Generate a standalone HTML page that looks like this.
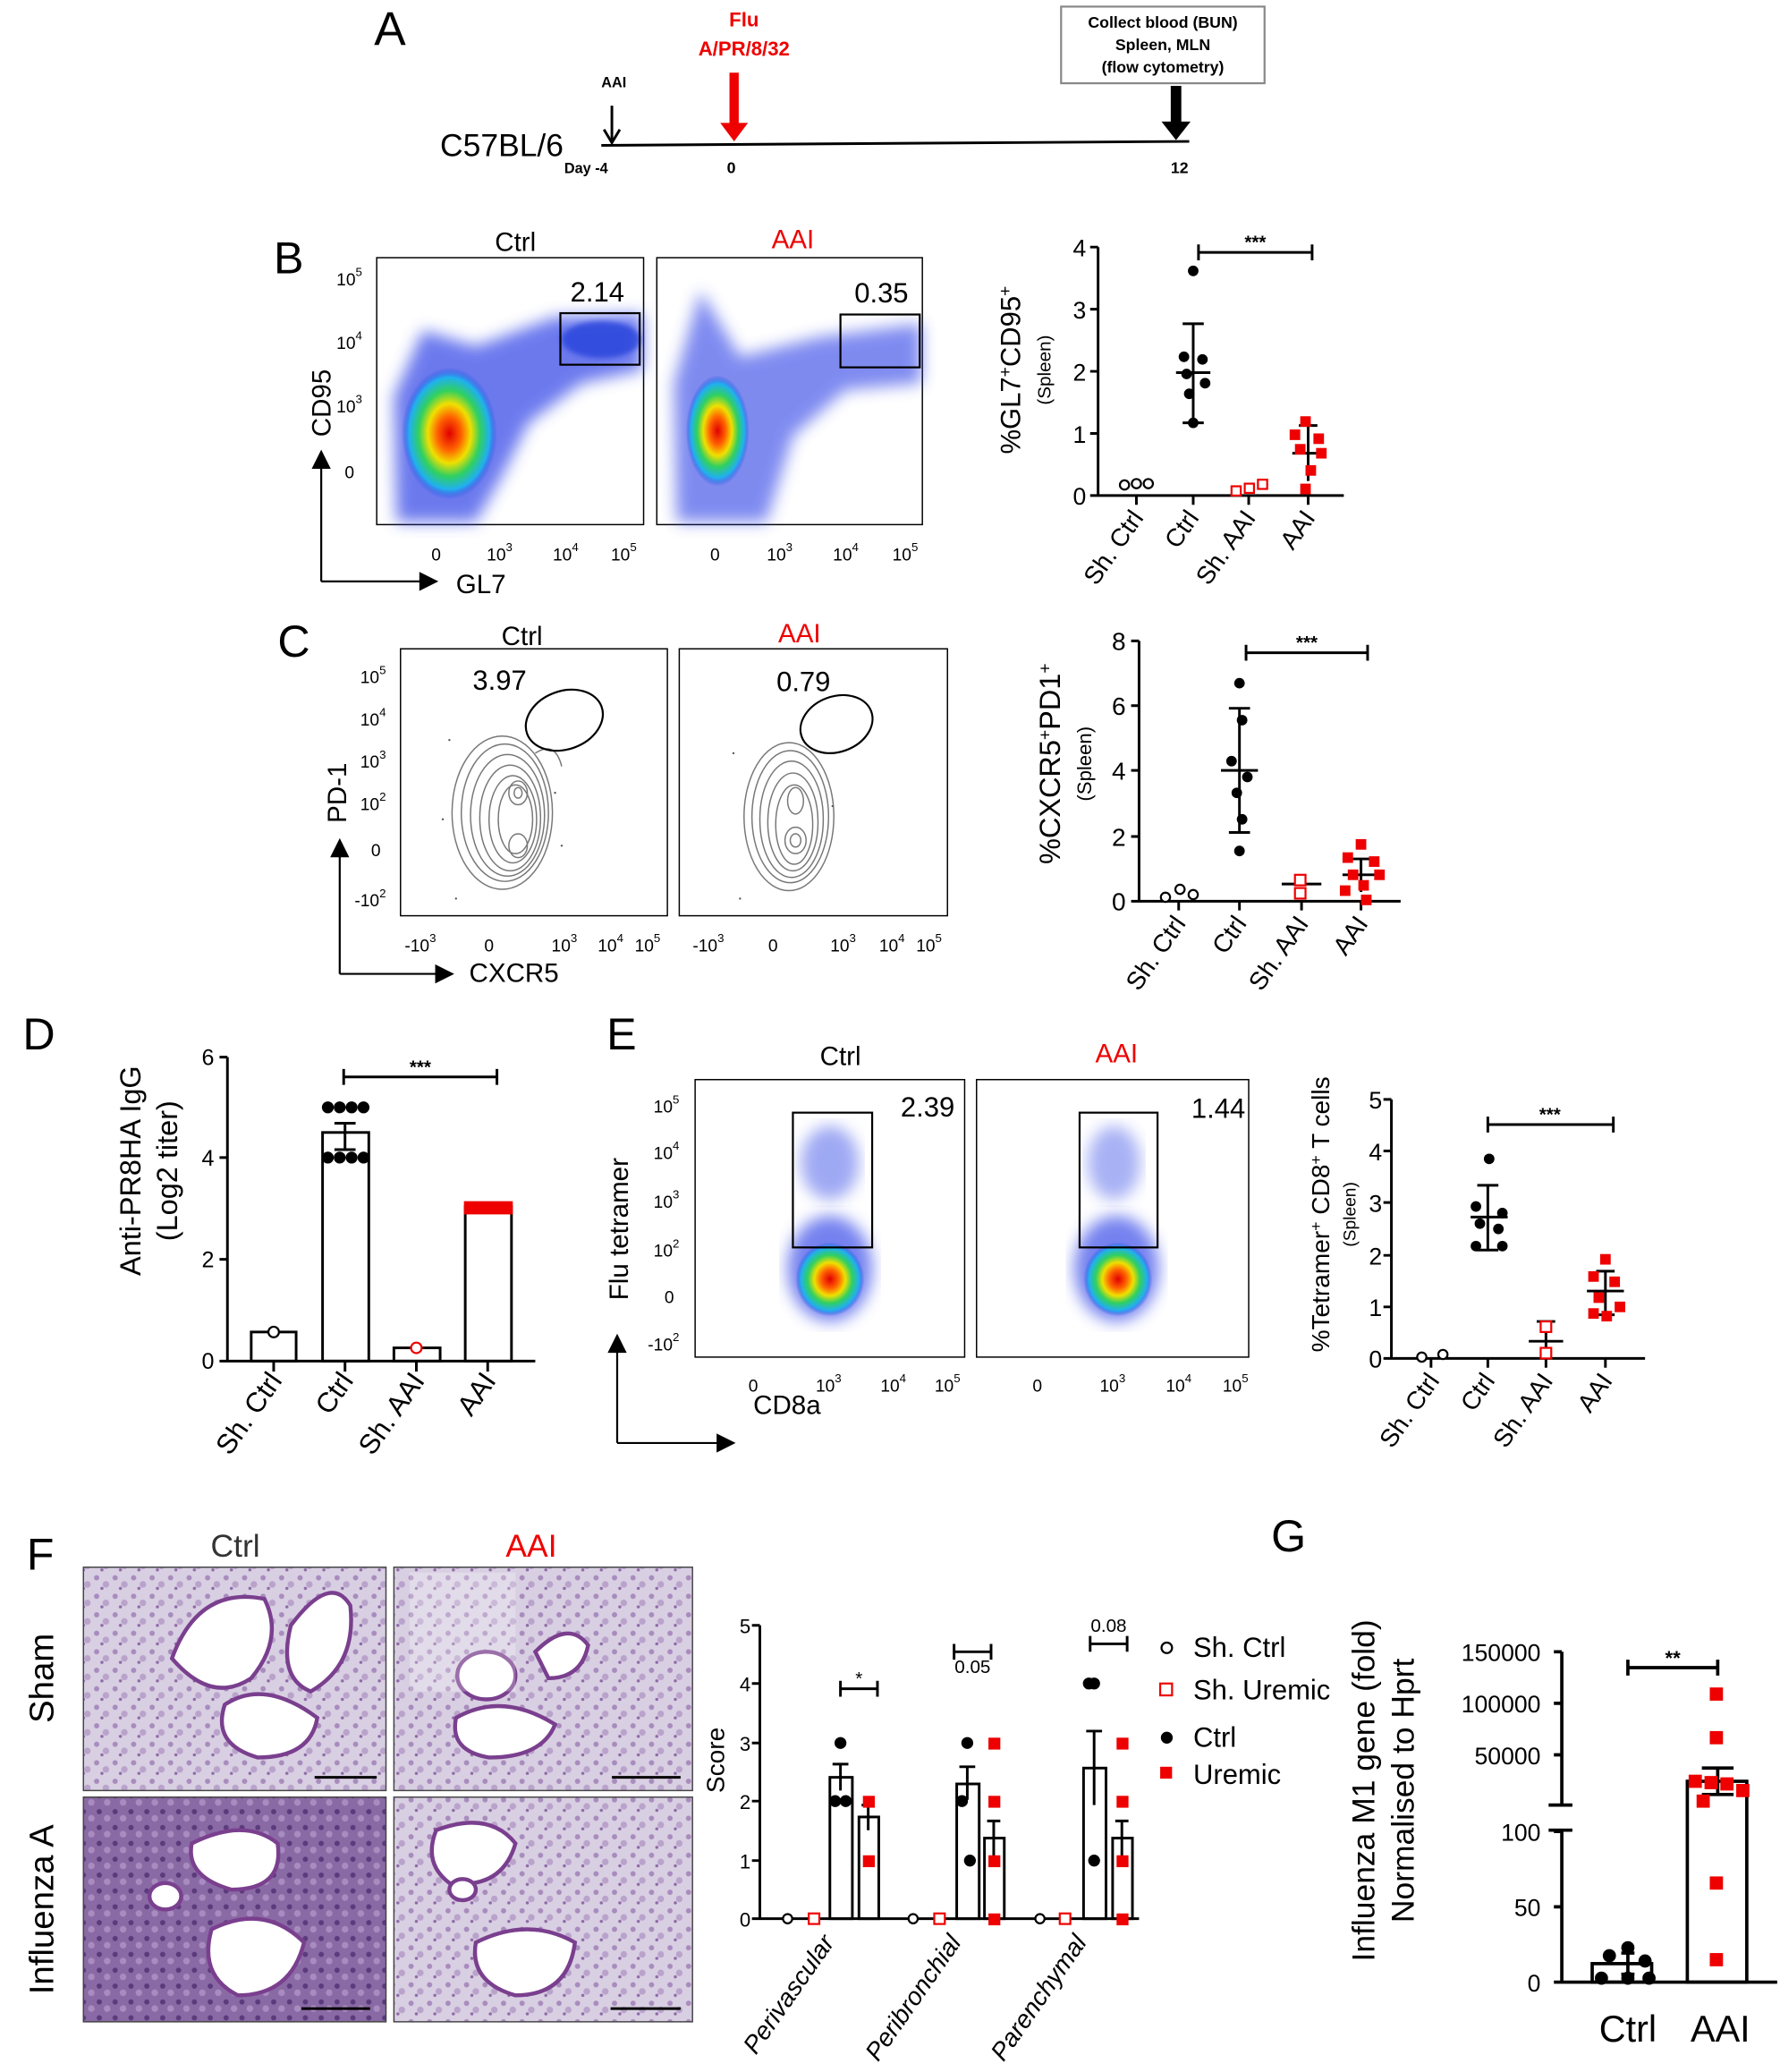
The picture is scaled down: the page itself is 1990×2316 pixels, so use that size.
<!DOCTYPE html>
<html><head><meta charset="utf-8"><style>html,body{margin:0;padding:0;background:#fff}svg{display:block}text{font-family:"Liberation Sans",Arial,sans-serif}</style></head>
<body>
<svg width="1990" height="2316" viewBox="0 0 1347 1568" xmlns="http://www.w3.org/2000/svg">
<defs>
<radialGradient id="hot" cx="50%" cy="50%" r="50%">
<stop offset="0" stop-color="#e00000"/><stop offset="0.25" stop-color="#ff6000"/><stop offset="0.45" stop-color="#f0e000"/><stop offset="0.65" stop-color="#30d060"/><stop offset="0.85" stop-color="#20b0f0"/><stop offset="1" stop-color="#2040e0" stop-opacity="0"/></radialGradient>
<filter id="bl"><feGaussianBlur stdDeviation="6"/></filter>
<filter id="bl2"><feGaussianBlur stdDeviation="2"/></filter>
<pattern id="tis" width="14" height="14" patternUnits="userSpaceOnUse"><rect width="14" height="14" fill="#d9cfe3"/><circle cx="3" cy="4" r="2" fill="#a88cbd"/><circle cx="10" cy="9" r="2.5" fill="#b9a3cb"/><circle cx="7" cy="12" r="1.2" fill="#8e6aa6"/></pattern>
<pattern id="tis2" width="12" height="12" patternUnits="userSpaceOnUse"><rect width="12" height="12" fill="#8a6aa5"/><circle cx="3" cy="3" r="2" fill="#5b3b7b"/><circle cx="9" cy="8" r="2.5" fill="#a88cc0"/></pattern>
</defs>
<g font-size="18" fill="#000">
<!-- Panel A -->
<text x="283" y="34" font-size="36">A</text>
<text x="455" y="66" font-size="11" font-weight="bold">AAI</text>
<line x1="463" y1="80" x2="463" y2="106" stroke="#000" stroke-width="2"/><path d="M457,98 L463,108 L469,98" fill="none" stroke="#000" stroke-width="2"/>
<line x1="455" y1="110" x2="900" y2="107" stroke="#000" stroke-width="2"/>
<text x="333" y="118" font-size="24">C57BL/6</text>
<text x="427" y="131" font-size="11" font-weight="bold">Day -4</text>
<text x="550" y="131" font-size="12" font-weight="bold">0</text>
<text x="886" y="131" font-size="12" font-weight="bold">12</text>
<text x="563" y="20" font-size="15" font-weight="bold" fill="#e00" text-anchor="middle">Flu</text>
<text x="563" y="42" font-size="15" font-weight="bold" fill="#e00" text-anchor="middle">A/PR/8/32</text>
<rect x="552" y="55" width="7" height="40" fill="#e00"/><path d="M545,93 L566,93 L555.5,107Z" fill="#e00"/>
<rect x="803" y="5" width="154" height="58" fill="#fff" stroke="#888" stroke-width="1.5"/>
<text x="880" y="21" font-size="12" font-weight="bold" text-anchor="middle">Collect blood (BUN)</text>
<text x="880" y="38" font-size="12" font-weight="bold" text-anchor="middle">Spleen, MLN</text>
<text x="880" y="55" font-size="12" font-weight="bold" text-anchor="middle">(flow cytometry)</text>
<rect x="886" y="65" width="8" height="30" fill="#000"/><path d="M879,92 L901,92 L890,106Z" fill="#000"/>

<!-- Panel B -->
<text x="207" y="207" font-size="34">B</text>
<text x="390" y="190" font-size="20" text-anchor="middle">Ctrl</text>
<text x="600" y="188" font-size="20" text-anchor="middle" fill="#e00">AAI</text>
<g>
<rect x="285" y="195" width="202" height="202" fill="#fff" stroke="#000"/>
<path d="M300,395 L298,300 L320,250 L360,262 L420,240 L486,238 L486,280 L440,290 L400,320 L380,360 L360,395Z" fill="#3a4de8" opacity="0.75" filter="url(#bl)"/>
<ellipse cx="340" cy="328" rx="36" ry="50" fill="url(#hot)"/>
<ellipse cx="455" cy="257" rx="30" ry="14" fill="#1e3bd8" opacity="0.7" filter="url(#bl2)"/>
<rect x="424" y="237" width="60" height="39" fill="none" stroke="#000" stroke-width="1.5"/>
<text x="452" y="228" font-size="21" text-anchor="middle">2.14</text>
<rect x="497" y="195" width="201" height="202" fill="#fff" stroke="#000"/>
<path d="M512,395 L510,290 L530,220 L560,270 L620,255 L697,245 L697,290 L640,295 L600,330 L580,395Z" fill="#3a4de8" opacity="0.65" filter="url(#bl)"/>
<ellipse cx="543" cy="326" rx="24" ry="42" fill="url(#hot)"/>
<rect x="636" y="238" width="60" height="40" fill="none" stroke="#000" stroke-width="1.5"/>
<text x="667" y="229" font-size="21" text-anchor="middle">0.35</text>
</g>
<g font-size="13" text-anchor="end">
<text x="274" y="216">10<tspan dy="-7" font-size="9">5</tspan></text>
<text x="274" y="264">10<tspan dy="-7" font-size="9">4</tspan></text>
<text x="274" y="312">10<tspan dy="-7" font-size="9">3</tspan></text>
<text x="268" y="362">0</text>
</g>
<g font-size="13" text-anchor="middle">
<text x="330" y="424">0</text><text x="378" y="424">10<tspan dy="-7" font-size="9">3</tspan></text><text x="428" y="424">10<tspan dy="-7" font-size="9">4</tspan></text><text x="472" y="424">10<tspan dy="-7" font-size="9">5</tspan></text>
<text x="541" y="424">0</text><text x="590" y="424">10<tspan dy="-7" font-size="9">3</tspan></text><text x="640" y="424">10<tspan dy="-7" font-size="9">4</tspan></text><text x="685" y="424">10<tspan dy="-7" font-size="9">5</tspan></text>
</g>
<path d="M243,440 L243,352 M237,354 L243,342 L249,354Z M243,440 L320,440 M318,434 L330,440 L318,446Z" stroke="#000" stroke-width="1.5" fill="#000"/>
<text x="250" y="305" font-size="20" transform="rotate(-90 250 305)" text-anchor="middle">CD95</text>
<text x="345" y="449" font-size="20">GL7</text>
<!-- B scatter -->
<g stroke="#000" stroke-width="2" fill="none">
<path d="M831,187 L831,375 L1017,375 M825,187 L831,187 M825,234 L831,234 M825,281 L831,281 M825,328 L831,328 M825,375 L831,375"/>
<path d="M860,375 L860,382 M903,375 L903,382 M945,375 L945,382 M990,375 L990,382"/>
<path d="M907,191 L993,191 M907,185 L907,197 M993,185 L993,197"/>
<path d="M890,282 L916,282 M903,245 L903,320 M895,245 L911,245 M895,320 L911,320"/>
<path d="M978,343 L1002,343 M990,322 L990,364 M983,322 L997,322"/>
</g>
<g font-size="18" text-anchor="end"><text x="822" y="194">4</text><text x="822" y="241">3</text><text x="822" y="288">2</text><text x="822" y="335">1</text><text x="822" y="382">0</text></g>
<text x="950" y="188" font-size="14" text-anchor="middle" font-weight="bold">***</text>
<g fill="#fff" stroke="#000" stroke-width="1.5"><circle cx="851" cy="367" r="3.5"/><circle cx="860" cy="366" r="3.5"/><circle cx="869" cy="366" r="3.5"/></g>
<g fill="#000"><circle cx="903" cy="205" r="4"/><circle cx="896" cy="270" r="4"/><circle cx="910" cy="272" r="4"/><circle cx="898" cy="283" r="4"/><circle cx="912" cy="290" r="4"/><circle cx="900" cy="298" r="4"/><circle cx="903" cy="320" r="4"/></g>
<g fill="#fff" stroke="#e00" stroke-width="1.5"><rect x="932" y="368" width="7" height="7"/><rect x="942" y="366" width="7" height="7"/><rect x="952" y="363" width="7" height="7"/></g>
<g fill="#e00"><rect x="984" y="315" width="8" height="8"/><rect x="976" y="325" width="8" height="8"/><rect x="994" y="328" width="8" height="8"/><rect x="980" y="336" width="8" height="8"/><rect x="996" y="339" width="8" height="8"/><rect x="988" y="352" width="8" height="8"/><rect x="984" y="366" width="8" height="8"/></g>
<g font-size="19" text-anchor="end">
<text transform="translate(866,392) rotate(-55)">Sh. Ctrl</text><text transform="translate(908,392) rotate(-55)">Ctrl</text><text transform="translate(951,392) rotate(-55)">Sh. AAI</text><text transform="translate(996,392) rotate(-55)">AAI</text>
</g>
<text x="772" y="280" font-size="21" transform="rotate(-90 772 280)" text-anchor="middle">%GL7<tspan dy="-7" font-size="13">+</tspan><tspan dy="7">CD95</tspan><tspan dy="-7" font-size="13">+</tspan></text>
<text x="795" y="280" font-size="14" transform="rotate(-90 795 280)" text-anchor="middle">(Spleen)</text>

<!-- Panel C -->
<text x="210" y="497" font-size="34">C</text>
<text x="395" y="488" font-size="20" text-anchor="middle">Ctrl</text>
<text x="605" y="486" font-size="20" text-anchor="middle" fill="#e00">AAI</text>
<rect x="303" y="491" width="202" height="202" fill="#fff" stroke="#000"/>
<rect x="514" y="491" width="203" height="202" fill="#fff" stroke="#000"/>
<g fill="none" stroke="#777" stroke-width="1">
<ellipse cx="380" cy="615" rx="38" ry="58"/><ellipse cx="382" cy="615" rx="33" ry="52"/><ellipse cx="384" cy="617" rx="28" ry="46"/><ellipse cx="386" cy="619" rx="23" ry="40"/><ellipse cx="388" cy="620" rx="18" ry="33"/><ellipse cx="390" cy="620" rx="13" ry="26"/><ellipse cx="392" cy="600" rx="7" ry="9"/><ellipse cx="392" cy="640" rx="7" ry="9"/><ellipse cx="392" cy="600" rx="3" ry="4"/>
<path d="M405,570 Q420,560 425,580"/>
<ellipse cx="597" cy="618" rx="34" ry="56"/><ellipse cx="598" cy="618" rx="29" ry="50"/><ellipse cx="599" cy="620" rx="24" ry="44"/><ellipse cx="600" cy="622" rx="19" ry="37"/><ellipse cx="601" cy="624" rx="14" ry="30"/><ellipse cx="602" cy="606" rx="6" ry="10"/><ellipse cx="602" cy="636" rx="8" ry="10"/><ellipse cx="602" cy="636" rx="4" ry="5"/>
</g>
<g fill="#555"><circle cx="340" cy="560" r="0.8"/><circle cx="345" cy="680" r="0.8"/><circle cx="420" cy="600" r="0.8"/><circle cx="335" cy="620" r="0.8"/><circle cx="425" cy="640" r="0.8"/><circle cx="555" cy="570" r="0.8"/><circle cx="630" cy="610" r="0.8"/><circle cx="560" cy="680" r="0.8"/></g>
<ellipse cx="427" cy="545" rx="30" ry="22" transform="rotate(-20 427 545)" fill="none" stroke="#000" stroke-width="1.5"/>
<ellipse cx="633" cy="548" rx="28" ry="21" transform="rotate(-20 633 548)" fill="none" stroke="#000" stroke-width="1.5"/>
<text x="378" y="522" font-size="21" text-anchor="middle">3.97</text>
<text x="608" y="523" font-size="21" text-anchor="middle">0.79</text>
<g font-size="13" text-anchor="end">
<text x="292" y="517">10<tspan dy="-7" font-size="9">5</tspan></text><text x="292" y="549">10<tspan dy="-7" font-size="9">4</tspan></text><text x="292" y="581">10<tspan dy="-7" font-size="9">3</tspan></text><text x="292" y="613">10<tspan dy="-7" font-size="9">2</tspan></text><text x="288" y="648">0</text><text x="292" y="686">-10<tspan dy="-7" font-size="9">2</tspan></text>
</g>
<g font-size="13" text-anchor="middle">
<text x="318" y="720">-10<tspan dy="-7" font-size="9">3</tspan></text><text x="370" y="720">0</text><text x="427" y="720">10<tspan dy="-7" font-size="9">3</tspan></text><text x="462" y="720">10<tspan dy="-7" font-size="9">4</tspan></text><text x="490" y="720">10<tspan dy="-7" font-size="9">5</tspan></text>
<text x="536" y="720">-10<tspan dy="-7" font-size="9">3</tspan></text><text x="585" y="720">0</text><text x="638" y="720">10<tspan dy="-7" font-size="9">3</tspan></text><text x="675" y="720">10<tspan dy="-7" font-size="9">4</tspan></text><text x="703" y="720">10<tspan dy="-7" font-size="9">5</tspan></text>
</g>
<path d="M257,737 L257,645 M251,648 L257,636 L263,648Z M257,737 L332,737 M330,731 L342,737 L330,743Z" stroke="#000" stroke-width="1.5" fill="#000"/>
<text x="262" y="600" font-size="20" transform="rotate(-90 262 600)" text-anchor="middle">PD-1</text>
<text x="355" y="743" font-size="20">CXCR5</text>
<!-- C scatter -->
<g stroke="#000" stroke-width="2" fill="none">
<path d="M862,485 L862,682 L1060,682 M856,485 L862,485 M856,534 L862,534 M856,583 L862,583 M856,633 L862,633 M856,682 L862,682"/>
<path d="M892,682 L892,689 M938,682 L938,689 M985,682 L985,689 M1030,682 L1030,689"/>
<path d="M943,494 L1035,494 M943,488 L943,500 M1035,488 L1035,500"/>
<path d="M924,583 L952,583 M938,536 L938,630 M930,536 L946,536 M930,630 L946,630"/>
<path d="M970,669 L1000,669 M1016,662 L1044,662 M1030,650 L1030,675 M1022,650 L1038,650"/>
</g>
<g font-size="19" text-anchor="end"><text x="852" y="492">8</text><text x="852" y="541">6</text><text x="852" y="590">4</text><text x="852" y="640">2</text><text x="852" y="689">0</text></g>
<text x="989" y="491" font-size="14" text-anchor="middle" font-weight="bold">***</text>
<g fill="#fff" stroke="#000" stroke-width="1.5"><circle cx="882" cy="679" r="3.5"/><circle cx="893" cy="673" r="3.5"/><circle cx="903" cy="677" r="3.5"/></g>
<g fill="#000"><circle cx="938" cy="517" r="4"/><circle cx="940" cy="545" r="4"/><circle cx="932" cy="576" r="4"/><circle cx="944" cy="588" r="4"/><circle cx="936" cy="600" r="4"/><circle cx="940" cy="620" r="4"/><circle cx="938" cy="644" r="4"/></g>
<g fill="#fff" stroke="#e00" stroke-width="1.5"><rect x="980" y="662" width="8" height="8"/><rect x="980" y="672" width="8" height="8"/></g>
<g fill="#e00"><rect x="1026" y="635" width="8" height="8"/><rect x="1016" y="645" width="8" height="8"/><rect x="1036" y="648" width="8" height="8"/><rect x="1020" y="658" width="8" height="8"/><rect x="1040" y="658" width="8" height="8"/><rect x="1028" y="666" width="8" height="8"/><rect x="1014" y="670" width="8" height="8"/><rect x="1030" y="677" width="8" height="8"/></g>
<g font-size="19" text-anchor="end">
<text transform="translate(898,699) rotate(-55)">Sh. Ctrl</text><text transform="translate(944,699) rotate(-55)">Ctrl</text><text transform="translate(991,699) rotate(-55)">Sh. AAI</text><text transform="translate(1036,699) rotate(-55)">AAI</text>
</g>
<text x="802" y="578" font-size="22" transform="rotate(-90 802 578)" text-anchor="middle">%CXCR5<tspan dy="-7" font-size="13">+</tspan><tspan dy="7">PD1</tspan><tspan dy="-7" font-size="13">+</tspan></text>
<text x="826" y="578" font-size="15" transform="rotate(-90 826 578)" text-anchor="middle">(Spleen)</text>

<!-- Panel D -->
<text x="17" y="794" font-size="34">D</text>
<g stroke="#000" stroke-width="2" fill="none">
<path d="M172,800 L172,1030 L405,1030 M166,800 L172,800 M166,876 L172,876 M166,953 L172,953 M166,1030 L172,1030"/>
<path d="M207,1030 L207,1038 M261,1030 L261,1038 M315,1030 L315,1038 M369,1030 L369,1038"/>
<rect x="190" y="1008" width="34" height="22"/><rect x="244" y="857" width="35" height="173"/><rect x="298" y="1020" width="35" height="10"/><rect x="352" y="913" width="35" height="117"/>
<path d="M260,815 L376,815 M260,809 L260,821 M376,809 L376,821 M253,850 L269,850 M261,850 L261,870 M253,870 L269,870"/>
</g>
<g font-size="17" text-anchor="end"><text x="162" y="806">6</text><text x="162" y="882">4</text><text x="162" y="959">2</text><text x="162" y="1036">0</text></g>
<text x="318" y="812" font-size="14" text-anchor="middle" font-weight="bold">***</text>
<circle cx="207" cy="1008" r="4" fill="#fff" stroke="#000" stroke-width="1.5"/>
<circle cx="315" cy="1020" r="4" fill="#fff" stroke="#e00" stroke-width="1.5"/>
<g fill="#000"><circle cx="248" cy="838" r="4.5"/><circle cx="257" cy="838" r="4.5"/><circle cx="266" cy="838" r="4.5"/><circle cx="275" cy="838" r="4.5"/><circle cx="248" cy="876" r="4.5"/><circle cx="257" cy="876" r="4.5"/><circle cx="266" cy="876" r="4.5"/><circle cx="275" cy="876" r="4.5"/></g>
<rect x="351" y="909" width="37" height="10" fill="#e00"/>
<g font-size="21" text-anchor="end">
<text transform="translate(214,1045) rotate(-55)">Sh. Ctrl</text><text transform="translate(268,1045) rotate(-55)">Ctrl</text><text transform="translate(322,1045) rotate(-55)">Sh. AAI</text><text transform="translate(376,1045) rotate(-55)">AAI</text>
</g>
<text x="106" y="886" font-size="22" transform="rotate(-90 106 886)" text-anchor="middle">Anti-PR8HA IgG</text>
<text x="134" y="886" font-size="22" transform="rotate(-90 134 886)" text-anchor="middle">(Log2 titer)</text>

<!-- Panel E -->
<text x="459" y="794" font-size="34">E</text>
<text x="636" y="806" font-size="20" text-anchor="middle">Ctrl</text>
<text x="845" y="804" font-size="20" text-anchor="middle" fill="#e00">AAI</text>
<rect x="526" y="817" width="204" height="210" fill="#fff" stroke="#000"/>
<rect x="739" y="817" width="206" height="210" fill="#fff" stroke="#000"/>
<ellipse cx="628" cy="880" rx="22" ry="28" fill="#4055e8" opacity="0.5" filter="url(#bl)"/>
<ellipse cx="628" cy="960" rx="32" ry="40" fill="#3a4de8" opacity="0.7" filter="url(#bl)"/>
<ellipse cx="628" cy="968" rx="26" ry="28" fill="url(#hot)"/>
<ellipse cx="843" cy="880" rx="20" ry="28" fill="#4055e8" opacity="0.45" filter="url(#bl)"/>
<ellipse cx="845" cy="960" rx="32" ry="40" fill="#3a4de8" opacity="0.7" filter="url(#bl)"/>
<ellipse cx="846" cy="968" rx="26" ry="28" fill="url(#hot)"/>
<rect x="600" y="842" width="60" height="102" fill="none" stroke="#000" stroke-width="1.5"/>
<rect x="817" y="842" width="59" height="102" fill="none" stroke="#000" stroke-width="1.5"/>
<text x="702" y="845" font-size="21" text-anchor="middle">2.39</text>
<text x="922" y="846" font-size="21" text-anchor="middle">1.44</text>
<g font-size="13" text-anchor="end">
<text x="514" y="842">10<tspan dy="-7" font-size="9">5</tspan></text><text x="514" y="877">10<tspan dy="-7" font-size="9">4</tspan></text><text x="514" y="914">10<tspan dy="-7" font-size="9">3</tspan></text><text x="514" y="951">10<tspan dy="-7" font-size="9">2</tspan></text><text x="510" y="986">0</text><text x="514" y="1022">-10<tspan dy="-7" font-size="9">2</tspan></text>
</g>
<g font-size="13" text-anchor="middle">
<text x="570" y="1053">0</text><text x="627" y="1053">10<tspan dy="-7" font-size="9">3</tspan></text><text x="676" y="1053">10<tspan dy="-7" font-size="9">4</tspan></text><text x="717" y="1053">10<tspan dy="-7" font-size="9">5</tspan></text>
<text x="785" y="1053">0</text><text x="842" y="1053">10<tspan dy="-7" font-size="9">3</tspan></text><text x="892" y="1053">10<tspan dy="-7" font-size="9">4</tspan></text><text x="935" y="1053">10<tspan dy="-7" font-size="9">5</tspan></text>
</g>
<path d="M467,1092 L467,1020 M461,1023 L467,1011 L473,1023Z M467,1092 L545,1092 M543,1086 L555,1092 L543,1098Z" stroke="#000" stroke-width="1.5" fill="#000"/>
<text x="475" y="930" font-size="20" transform="rotate(-90 475 930)" text-anchor="middle">Flu tetramer</text>
<text x="570" y="1070" font-size="20">CD8a</text>
<!-- E scatter -->
<g stroke="#000" stroke-width="2" fill="none">
<path d="M1053,832 L1053,1028 L1245,1028 M1047,832 L1053,832 M1047,871 L1053,871 M1047,910 L1053,910 M1047,950 L1053,950 M1047,989 L1053,989 M1047,1028 L1053,1028"/>
<path d="M1083,1028 L1083,1035 M1126,1028 L1126,1035 M1170,1028 L1170,1035 M1215,1028 L1215,1035"/>
<path d="M1126,851 L1221,851 M1126,845 L1126,857 M1221,845 L1221,857"/>
<path d="M1113,921 L1141,921 M1126,897 L1126,946 M1118,897 L1134,897 M1118,946 L1134,946"/>
<path d="M1157,1015 L1183,1015 M1170,1000 L1170,1028 M1163,1000 L1177,1000 M1201,977 L1229,977 M1215,962 L1215,995 M1208,962 L1222,962 M1208,995 L1222,995"/>
</g>
<g font-size="18" text-anchor="end"><text x="1046" y="839">5</text><text x="1046" y="878">4</text><text x="1046" y="917">3</text><text x="1046" y="957">2</text><text x="1046" y="996">1</text><text x="1046" y="1035">0</text></g>
<text x="1173" y="848" font-size="14" text-anchor="middle" font-weight="bold">***</text>
<g fill="#fff" stroke="#000" stroke-width="1.5"><circle cx="1076" cy="1027" r="3.5"/><circle cx="1092" cy="1025" r="3.5"/></g>
<g fill="#000"><circle cx="1127" cy="877" r="4"/><circle cx="1117" cy="913" r="4"/><circle cx="1137" cy="918" r="4"/><circle cx="1120" cy="926" r="4"/><circle cx="1134" cy="930" r="4"/><circle cx="1117" cy="943" r="4"/><circle cx="1137" cy="943" r="4"/></g>
<g fill="#fff" stroke="#e00" stroke-width="1.5"><rect x="1166" y="1000" width="8" height="8"/><rect x="1166" y="1020" width="8" height="8"/></g>
<g fill="#e00"><rect x="1211" y="949" width="8" height="8"/><rect x="1202" y="962" width="8" height="8"/><rect x="1218" y="966" width="8" height="8"/><rect x="1206" y="978" width="8" height="8"/><rect x="1222" y="985" width="8" height="8"/><rect x="1202" y="990" width="8" height="8"/><rect x="1212" y="992" width="8" height="8"/></g>
<g font-size="19" text-anchor="end">
<text transform="translate(1090,1045) rotate(-55)">Sh. Ctrl</text><text transform="translate(1132,1045) rotate(-55)">Ctrl</text><text transform="translate(1176,1045) rotate(-55)">Sh. AAI</text><text transform="translate(1221,1045) rotate(-55)">AAI</text>
</g>
<text x="1006" y="919" font-size="19" transform="rotate(-90 1006 919)" text-anchor="middle">%Tetramer<tspan dy="-6" font-size="12">+</tspan><tspan dy="6"> CD8</tspan><tspan dy="-6" font-size="12">+</tspan><tspan dy="6"> T cells</tspan></text>
<text x="1026" y="919" font-size="13" transform="rotate(-90 1026 919)" text-anchor="middle">(Spleen)</text>

<!-- Panel F -->
<text x="20" y="1188" font-size="34">F</text>
<text x="178" y="1178" font-size="24" text-anchor="middle" fill="#333">Ctrl</text>
<text x="402" y="1178" font-size="24" text-anchor="middle" fill="#e00">AAI</text>
<text x="40" y="1270" font-size="26" transform="rotate(-90 40 1270)" text-anchor="middle">Sham</text>
<text x="40" y="1445" font-size="26" transform="rotate(-90 40 1445)" text-anchor="middle">Influenza A</text>
<rect x="63" y="1186" width="229" height="169" fill="url(#tis)" stroke="#444"/>
<rect x="298" y="1186" width="226" height="169" fill="url(#tis)" stroke="#444"/>
<rect x="63" y="1360" width="229" height="170" fill="url(#tis2)" stroke="#444"/>
<rect x="298" y="1360" width="226" height="170" fill="url(#tis)" stroke="#444"/>
<g fill="#fff" stroke="#7a3f8e" stroke-width="3">
<path d="M130,1255 Q150,1200 200,1210 Q215,1240 190,1270 Q160,1290 130,1255Z"/>
<path d="M220,1230 Q250,1190 265,1215 Q270,1260 235,1280 Q210,1270 220,1230Z"/>
<path d="M170,1290 Q200,1270 240,1300 Q235,1330 195,1330 Q160,1320 170,1290Z"/>
<ellipse cx="368" cy="1268" rx="22" ry="18"/><path d="M345,1300 Q380,1280 420,1305 Q410,1330 370,1330 Q340,1325 345,1300Z"/>
<path d="M405,1250 Q430,1225 445,1245 Q440,1270 415,1270Z"/>
<path d="M145,1395 Q185,1375 210,1395 Q215,1430 175,1430 Q140,1420 145,1395Z"/>
<path d="M160,1460 Q200,1440 230,1470 Q220,1510 180,1510 Q150,1495 160,1460Z"/>
<ellipse cx="125" cy="1435" rx="12" ry="10"/>
<path d="M330,1385 Q370,1370 390,1395 Q380,1430 340,1425 Q320,1410 330,1385Z"/>
<path d="M360,1470 Q400,1450 435,1470 Q430,1510 390,1510 Q355,1500 360,1470Z"/>
<ellipse cx="350" cy="1430" rx="10" ry="8"/>
</g>
<rect x="310" y="1190" width="80" height="90" fill="#fff" opacity="0.25"/>
<g stroke="#000" stroke-width="2"><line x1="238" y1="1345" x2="285" y2="1345"/><line x1="463" y1="1345" x2="515" y2="1345"/><line x1="228" y1="1520" x2="280" y2="1520"/><line x1="462" y1="1520" x2="515" y2="1520"/></g>
<!-- F bar chart -->
<g stroke="#000" stroke-width="2" fill="none">
<path d="M575,1230 L575,1452 L862,1452 M569,1230 L575,1230 M569,1274 L575,1274 M569,1319 L575,1319 M569,1363 L575,1363 M569,1408 L575,1408 M569,1452 L575,1452"/>
<rect x="628" y="1345" width="17" height="107"/><rect x="650" y="1375" width="15" height="77"/>
<rect x="724" y="1350" width="17" height="102"/><rect x="745" y="1391" width="15" height="61"/>
<rect x="820" y="1338" width="17" height="114"/><rect x="842" y="1391" width="15" height="61"/>
<path d="M636,1278 L664,1278 M636,1272 L636,1284 M664,1272 L664,1284 M722,1250 L750,1250 M722,1244 L722,1256 M750,1244 L750,1256 M825,1244 L853,1244 M825,1238 L825,1250 M853,1238 L853,1250"/>
<path d="M636,1335 L636,1355 M630,1335 L642,1335 M657,1366 L657,1385 M652,1366 L662,1366 M732,1337 L732,1362 M726,1337 L738,1337 M752,1378 L752,1405 M747,1378 L757,1378 M828,1310 L828,1366 M822,1310 L834,1310 M849,1378 L849,1405 M844,1378 L854,1378"/>
</g>
<g font-size="15" text-anchor="end"><text x="568" y="1236">5</text><text x="568" y="1280">4</text><text x="568" y="1325">3</text><text x="568" y="1369">2</text><text x="568" y="1414">1</text><text x="568" y="1458">0</text></g>
<text x="650" y="1275" font-size="14" text-anchor="middle">*</text>
<text x="736" y="1266" font-size="14" text-anchor="middle">0.05</text>
<text x="839" y="1235" font-size="14" text-anchor="middle">0.08</text>
<text x="548" y="1332" font-size="19" transform="rotate(-90 548 1332)" text-anchor="middle">Score</text>
<g fill="#fff" stroke="#000" stroke-width="1.5"><circle cx="596" cy="1452" r="3.5"/><circle cx="691" cy="1452" r="3.5"/><circle cx="787" cy="1452" r="3.5"/></g>
<g fill="#fff" stroke="#e00" stroke-width="1.5"><rect x="612" y="1448" width="8" height="8"/><rect x="707" y="1448" width="8" height="8"/><rect x="802" y="1448" width="8" height="8"/></g>
<g fill="#000"><circle cx="636" cy="1319" r="4.5"/><circle cx="640" cy="1363" r="4.5"/><circle cx="632" cy="1363" r="4.5"/><circle cx="732" cy="1319" r="4.5"/><circle cx="728" cy="1363" r="4.5"/><circle cx="734" cy="1408" r="4.5"/><circle cx="828" cy="1274" r="4.5"/><circle cx="824" cy="1274" r="4.5"/><circle cx="828" cy="1408" r="4.5"/></g>
<g fill="#e00"><rect x="653" y="1359" width="9" height="9"/><rect x="653" y="1404" width="9" height="9"/><rect x="748" y="1315" width="9" height="9"/><rect x="748" y="1359" width="9" height="9"/><rect x="748" y="1404" width="9" height="9"/><rect x="748" y="1448" width="9" height="9"/><rect x="845" y="1315" width="9" height="9"/><rect x="845" y="1359" width="9" height="9"/><rect x="845" y="1404" width="9" height="9"/><rect x="845" y="1448" width="9" height="9"/></g>
<g font-size="19" font-style="italic" text-anchor="end">
<text transform="translate(632,1470) rotate(-55)">Perivascular</text><text transform="translate(728,1470) rotate(-55)">Peribronchial</text><text transform="translate(823,1470) rotate(-55)">Parenchymal</text>
</g>
<circle cx="883" cy="1247" r="4" fill="#fff" stroke="#000" stroke-width="1.5"/>
<rect x="878" y="1274" width="9" height="9" fill="#fff" stroke="#e00" stroke-width="1.5"/>
<circle cx="883" cy="1315" r="4.5" fill="#000"/>
<rect x="878" y="1337" width="9" height="9" fill="#e00"/>
<g font-size="21"><text x="903" y="1254">Sh. Ctrl</text><text x="903" y="1286">Sh. Uremic</text><text x="903" y="1322">Ctrl</text><text x="903" y="1350">Uremic</text></g>

<!-- Panel G -->
<text x="962" y="1174" font-size="34">G</text>
<g stroke="#000" stroke-width="2.5" fill="none">
<path d="M1182,1250 L1182,1366 M1182,1385 L1182,1500 L1345,1500 M1176,1250 L1182,1250 M1176,1289 L1182,1289 M1176,1328 L1182,1328 M1176,1386 L1182,1386 M1176,1443 L1182,1443 M1176,1500 L1182,1500"/>
<path d="M1172,1366 L1190,1366 M1172,1385 L1190,1385"/>
<rect x="1205" y="1486" width="45" height="14"/><rect x="1277" y="1348" width="45" height="152"/>
<path d="M1232,1262 L1300,1262 M1232,1256 L1232,1268 M1300,1256 L1300,1268 M1227,1478 L1237,1478 M1232,1478 L1232,1494 M1227,1494 L1237,1494 M1288,1338 L1312,1338 M1300,1338 L1300,1358 M1288,1358 L1312,1358"/>
</g>
<g font-size="18" text-anchor="end"><text x="1166" y="1257">150000</text><text x="1166" y="1296">100000</text><text x="1166" y="1335">50000</text><text x="1166" y="1393">100</text><text x="1166" y="1450">50</text><text x="1166" y="1507">0</text></g>
<text x="1266" y="1260" font-size="15" text-anchor="middle" font-weight="bold">**</text>
<g fill="#000"><circle cx="1218" cy="1480" r="5"/><circle cx="1232" cy="1474" r="5"/><circle cx="1245" cy="1484" r="5"/><circle cx="1212" cy="1497" r="5"/><circle cx="1232" cy="1497" r="5"/><circle cx="1248" cy="1497" r="5"/></g>
<g fill="#e00"><rect x="1294" y="1277" width="10" height="10"/><rect x="1294" y="1310" width="10" height="10"/><rect x="1278" y="1343" width="10" height="10"/><rect x="1290" y="1344" width="10" height="10"/><rect x="1302" y="1345" width="10" height="10"/><rect x="1314" y="1350" width="10" height="10"/><rect x="1284" y="1358" width="10" height="10"/><rect x="1294" y="1420" width="10" height="10"/><rect x="1294" y="1478" width="10" height="10"/></g>
<text x="1232" y="1545" font-size="28" text-anchor="middle">Ctrl</text>
<text x="1302" y="1545" font-size="28" text-anchor="middle">AAI</text>
<text x="1040" y="1355" font-size="24" transform="rotate(-90 1040 1355)" text-anchor="middle">Influenza M1 gene (fold)</text>
<text x="1070" y="1355" font-size="24" transform="rotate(-90 1070 1355)" text-anchor="middle">Normalised to Hprt</text>
</g>
</svg>
</body></html>
